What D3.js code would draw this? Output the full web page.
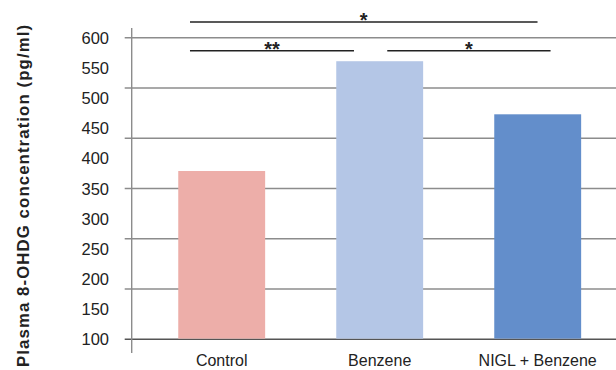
<!DOCTYPE html>
<html>
<head>
<meta charset="utf-8">
<script src="https://cdn.jsdelivr.net/npm/d3@7"></script>
<style>
  body { margin: 0; background: #fff; }
  text { font-family: "Liberation Sans", Arial, Helvetica, sans-serif; fill: #222; }
</style>
</head>
<body>
<svg id="chart"></svg>
<script>
// chart data
const groups = ['Control', 'Benzene', 'NIGL + Benzene'];
const values = [379, 561, 473];
const barColors = ['#EDAEA9', '#B4C6E6', '#638ECB'];
const tickLabels = [100, 150, 200, 250, 300, 350, 400, 450, 500, 550, 600];
const gridCount = 7;

// significance brackets (ends given as fractions of the bar width)
const brackets = [
  { from: 'Control', fromAt: 0.135, to: 'NIGL + Benzene', toAt: 0.498, level: 0, label: '*' },
  { from: 'Control', fromAt: 0.135, to: 'Benzene', toAt: 0.204, level: 1, label: '**' },
  { from: 'Benzene', fromAt: 0.587, to: 'NIGL + Benzene', toAt: 0.648, level: 1, label: '*' }
];

const config = {
  width: 616,
  height: 370,
  axisX: 131.7,
  plotTop: 37.7,
  plotBottom: 339.3
};

const svg = d3.select('#chart')
  .attr('width', config.width)
  .attr('height', config.height);

const yScale = d3.scaleLinear()
  .domain([100, 600])
  .range([config.plotBottom, config.plotTop]);

const xScale = d3.scaleBand()
  .domain(groups)
  .range([142.7, 142.7 + 3 * 158])
  .paddingInner(0.45)
  .paddingOuter(0.225);

// gridlines, evenly spread over the domain
const gridValues = d3.range(gridCount).map(i => 100 + i * 500 / (gridCount - 1));
svg.append('g')
  .selectAll('line')
  .data(gridValues)
  .join('line')
    .attr('x1', config.axisX - 7)
    .attr('x2', config.width)
    .attr('y1', d => yScale(d))
    .attr('y2', d => yScale(d))
    .attr('stroke', (d, i) => i === 0 ? '#555' : '#8c8c8c')
    .attr('stroke-width', 1.4);

// y axis line
svg.append('line')
  .attr('x1', config.axisX).attr('x2', config.axisX)
  .attr('y1', 28).attr('y2', 353)
  .attr('stroke', '#8c8c8c')
  .attr('stroke-width', 1.4);

// y tick labels
svg.append('g')
  .selectAll('text')
  .data(tickLabels)
  .join('text')
    .attr('x', 109)
    .attr('y', d => yScale(d) + 6)
    .attr('text-anchor', 'end')
    .style('font-size', '16.5px')
    .text(d => d);

// bars
svg.append('g')
  .selectAll('rect')
  .data(values)
  .join('rect')
    .attr('x', (d, i) => xScale(groups[i]))
    .attr('width', xScale.bandwidth())
    .attr('y', d => yScale(d))
    .attr('height', d => yScale(100) - yScale(d) - 0.7)
    .attr('fill', (d, i) => barColors[i]);

// x labels
svg.append('g')
  .selectAll('text')
  .data(groups)
  .join('text')
    .attr('x', d => xScale(d) + xScale.bandwidth() / 2)
    .attr('y', 365.5)
    .attr('text-anchor', 'middle')
    .style('font-size', '16px')
    .text(d => d);

// y axis title
svg.append('text')
  .attr('transform', 'translate(29, 196) rotate(-90)')
  .attr('text-anchor', 'middle')
  .attr('textLength', 342)
  .attr('lengthAdjust', 'spacing')
  .style('font-size', '16.8px')
  .style('font-weight', 'bold')
  .text('Plasma 8-OHDG concentration (pg/ml)');

// significance brackets
const levelY = [22, 50.7];
const bx = (cat, at) => xScale(cat) + at * xScale.bandwidth();
const bg = svg.append('g');
brackets.forEach(b => {
  const x1 = bx(b.from, b.fromAt);
  const x2 = bx(b.to, b.toAt);
  bg.append('line')
    .attr('x1', x1).attr('x2', x2)
    .attr('y1', levelY[b.level]).attr('y2', levelY[b.level])
    .attr('stroke', '#222')
    .attr('stroke-width', 1.6);
  bg.append('text')
    .attr('x', (x1 + x2) / 2)
    .attr('y', levelY[b.level] + 5)
    .attr('text-anchor', 'middle')
    .style('font-size', '20px')
    .style('font-weight', 'bold')
    .text(b.label);
});
</script>
</body>
</html>
